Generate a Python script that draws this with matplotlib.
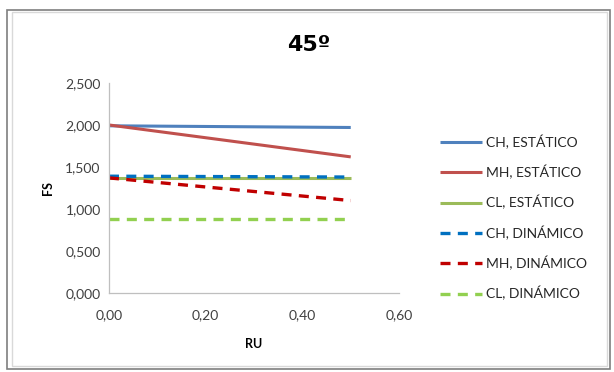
import matplotlib.pyplot as plt
from matplotlib.patches import Rectangle
from matplotlib.ticker import FuncFormatter

# datos
ru = [0.0, 0.5]
ch_est = [1.99, 1.97]
mh_est = [2.00, 1.62]
cl_est = [1.37, 1.37]
ch_din = [1.39, 1.38]
mh_din = [1.37, 1.10]
cl_din = [0.88, 0.88]

labels = ['CH, ESTÁTICO', 'MH, ESTÁTICO', 'CL, ESTÁTICO',
          'CH, DINÁMICO', 'MH, DINÁMICO', 'CL, DINÁMICO']
colors = ['#4F81BD', '#C0504D', '#9BBB59', '#0070C0', '#C00000', '#92D050']

plt.rcParams['font.family'] = ['Lato', 'DejaVu Sans']

fig = plt.figure(figsize=(6.14, 3.72), dpi=100)
ax = fig.add_axes([0.1775, 0.2124, 0.4725, 0.5646])

series = [ch_est, mh_est, cl_est, ch_din, mh_din, cl_din]
for i, (vals, lab, col) in enumerate(zip(series, labels, colors)):
    if i < 3:
        ax.plot(ru, vals, color=col, lw=2.2, label=lab, solid_capstyle='butt')
    else:
        ax.plot(ru, vals, color=col, lw=2.4, label=lab, dashes=(3, 2.2))

ax.set_xlim(0, 0.6)
ax.set_ylim(0, 2.5)
ax.set_xticks([0, 0.2, 0.4, 0.6])
ax.set_yticks([0, 0.5, 1.0, 1.5, 2.0, 2.5])
ax.xaxis.set_major_formatter(FuncFormatter(lambda v, p: f'{v:.2f}'.replace('.', ',')))
ax.yaxis.set_major_formatter(FuncFormatter(lambda v, p: f'{v:.3f}'.replace('.', ',')))
ax.tick_params(length=0, labelsize=10, colors='#404040', pad=6)
ax.tick_params(axis='x', pad=12)
for s in ['top', 'right']:
    ax.spines[s].set_visible(False)
for s in ['left', 'bottom']:
    ax.spines[s].set_color('#BFBFBF')
    ax.spines[s].set_linewidth(0.9)

ax.set_xlabel('RU', fontsize=9, fontweight='bold', labelpad=12)
ax.set_ylabel('FS', fontsize=9, fontweight='bold', labelpad=8)

fig.text(0.503, 0.878, '45º', fontsize=16, fontweight='bold', ha='center', va='center',
         family=['DejaVu Sans'])

leg = fig.legend(loc='upper left', bbox_to_anchor=(0.697, 0.672), frameon=False,
                 fontsize=10, handlelength=3.0, handletextpad=0.3, labelspacing=1.15)
for t in leg.get_texts():
    t.set_color('#262626')

# marco exterior
fig.patches.append(Rectangle((0.012, 0.008), 0.982, 0.965, transform=fig.transFigure,
                             fill=False, edgecolor='#7F7F7F', lw=1.2))
fig.patches.append(Rectangle((0.02, 0.015), 0.968, 0.952, transform=fig.transFigure,
                             fill=False, edgecolor='#D9D9D9', lw=1.0))

fig.savefig('out.png', dpi=100)
